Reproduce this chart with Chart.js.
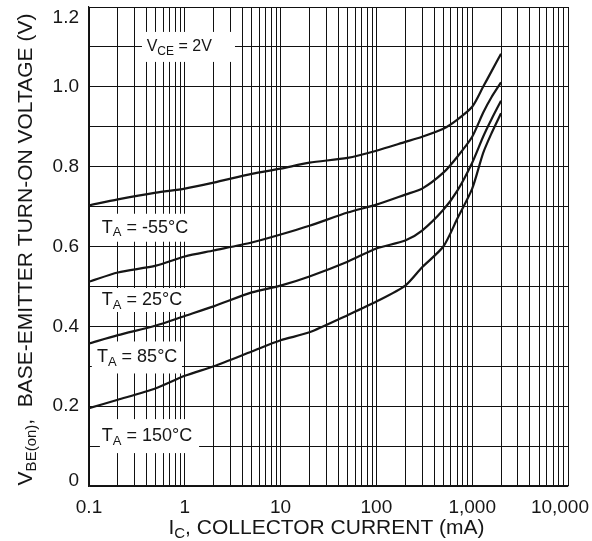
<!DOCTYPE html>
<html>
<head>
<meta charset="utf-8">
<script src="https://cdn.jsdelivr.net/npm/chart.js@4.4.0/dist/chart.umd.min.js"></script>
<style>
  html, body { margin: 0; padding: 0; background: #fff; }
  #wrap { width: 592px; height: 541px; }
</style>
</head>
<body>
<div id="wrap"><canvas id="chart"></canvas></div>
<script>
'use strict';

// collector current (mA), shared by all four curves
const currents = [0.1, 0.2, 0.5, 1, 2, 5, 10, 20, 50, 100, 200, 300, 500, 700, 1000, 1300, 1600, 2000];

// VBE(on) in volts, one array per ambient temperature
const vbeMinus55 = [0.703, 0.718, 0.735, 0.745, 0.760, 0.782, 0.795, 0.810, 0.822, 0.840, 0.862, 0.875, 0.895, 0.918, 0.950, 1.000, 1.040, 1.083];
const vbe25 = [0.512, 0.535, 0.552, 0.575, 0.590, 0.610, 0.630, 0.652, 0.685, 0.705, 0.730, 0.745, 0.785, 0.825, 0.875, 0.935, 0.975, 1.011];
const vbe85 = [0.357, 0.378, 0.402, 0.426, 0.450, 0.485, 0.502, 0.525, 0.562, 0.595, 0.615, 0.640, 0.692, 0.740, 0.810, 0.875, 0.920, 0.965];
const vbe150 = [0.195, 0.216, 0.245, 0.276, 0.300, 0.337, 0.365, 0.385, 0.428, 0.462, 0.502, 0.548, 0.600, 0.670, 0.745, 0.834, 0.885, 0.934];

const xTickValues = [0.1, 1, 10, 100, 1000, 10000];
const xTickLabels = ['0.1', '1', '10', '100', '1,000', '10,000'];
const yTickValues = [0, 0.2, 0.4, 0.6, 0.8, 1.0, 1.2];
const yTickLabels = ['0', '0.2', '0.4', '0.6', '0.8', '1.0', '1.2'];

const FONT = '"Liberation Sans", Arial, Helvetica, sans-serif';
const INK = '#161616';

// text boxes on the plot: [text, subscript?] parts, box span in mA, centre in V
const notes = [
  { parts: [['V', 0], ['CE', 1], [' = 2V', 0]], size: 16, from: 0.357, to: 3.34, textAt: 0.40, y: 1.1, half: 15 },
  { parts: [['T', 0], ['A', 1], [' = -55°C', 0]], size: 18, from: 0.116, to: 1.44, textAt: 0.136, y: 0.647, half: 14 },
  { parts: [['T', 0], ['A', 1], [' = 25°C', 0]], size: 18, from: 0.116, to: 1.13, textAt: 0.136, y: 0.466, half: 12 },
  { parts: [['T', 0], ['A', 1], [' = 85°C', 0]], size: 18, from: 0.107, to: 0.935, textAt: 0.121, y: 0.322, half: 16 },
  { parts: [['T', 0], ['A', 1], [' = 150°C', 0]], size: 18, from: 0.130, to: 1.41, textAt: 0.136, y: 0.125, half: 17 }
];

function partsWidth(ctx, parts, size) {
  let w = 0;
  parts.forEach(([t, sub]) => {
    ctx.font = (sub ? Math.round(size * 0.72) : size) + 'px ' + FONT;
    w += ctx.measureText(t).width;
  });
  return w;
}

function drawParts(ctx, parts, size, x, y) {
  ctx.textBaseline = 'middle';
  ctx.textAlign = 'left';
  parts.forEach(([t, sub]) => {
    const s = sub ? Math.round(size * 0.72) : size;
    ctx.font = s + 'px ' + FONT;
    ctx.fillText(t, x, sub ? y + size * 0.28 : y);
    x += ctx.measureText(t).width;
  });
}

const textLayer = {
  id: 'textLayer',
  beforeDatasetsDraw(chart) {
    const ctx = chart.ctx;
    const xs = chart.scales.x, ys = chart.scales.y;
    ctx.save();
    notes.forEach(n => {
      const x0 = xs.getPixelForValue(n.from);
      const x1 = xs.getPixelForValue(n.to);
      const cy = ys.getPixelForValue(n.y);
      ctx.fillStyle = '#fff';
      ctx.fillRect(x0, cy - n.half, x1 - x0, n.half * 2);
      ctx.fillStyle = INK;
      drawParts(ctx, n.parts, n.size, xs.getPixelForValue(n.textAt), cy);
    });
    ctx.restore();
  },
  afterDraw(chart) {
    const ctx = chart.ctx;
    const xs = chart.scales.x, ys = chart.scales.y;
    const area = chart.chartArea;
    ctx.save();
    ctx.fillStyle = INK;

    // x tick labels, kept inside the canvas
    ctx.font = '19px ' + FONT;
    ctx.textBaseline = 'middle';
    ctx.textAlign = 'left';
    xTickValues.forEach((v, i) => {
      const w = ctx.measureText(xTickLabels[i]).width;
      let left = xs.getPixelForValue(v) - w / 2;
      left = Math.min(left, chart.width - 3 - w);
      ctx.fillText(xTickLabels[i], left, area.bottom + 22);
    });

    // y tick labels, the end ones pulled inside the plot height
    ctx.textAlign = 'right';
    yTickValues.forEach((v, i) => {
      let cy = ys.getPixelForValue(v);
      cy = Math.max(area.top + 11, Math.min(area.bottom - 5, cy));
      ctx.fillText(yTickLabels[i], area.left - 10, cy);
    });

    // x title
    const xParts = [['I', 0], ['C', 1], [', COLLECTOR CURRENT (mA)', 0]];
    const xw = partsWidth(ctx, xParts, 21);
    drawParts(ctx, xParts, 21, (area.left + area.right) / 2 - xw / 2 - 2, area.bottom + 42);

    // y title
    const yParts = [['V', 0], ['BE(on)', 1], [',  BASE-EMITTER TURN-ON VOLTAGE (V)', 0]];
    const yw = partsWidth(ctx, yParts, 21);
    ctx.translate(26, (area.top + area.bottom) / 2 + 3);
    ctx.rotate(-Math.PI / 2);
    drawParts(ctx, yParts, 21, -yw / 2, 0);
    ctx.restore();
  }
};

function makeSet(label, values) {
  return {
    label: label,
    data: currents.map((c, i) => ({ x: c, y: values[i] })),
    borderColor: INK,
    borderWidth: 2.2,
    pointRadius: 0,
    tension: 0.25,
    fill: false
  };
}

const config = {
  type: 'line',
  data: {
    datasets: [
      makeSet('-55°C', vbeMinus55),
      makeSet('25°C', vbe25),
      makeSet('85°C', vbe85),
      makeSet('150°C', vbe150)
    ]
  },
  options: {
    responsive: false,
    animation: false,
    layout: { padding: { left: 0, right: 24, top: 7, bottom: 0 } },
    plugins: { legend: { display: false }, tooltip: { enabled: false } },
    scales: {
      x: {
        type: 'logarithmic',
        min: 0.1,
        max: 10000,
        afterBuildTicks(scale) {
          const ticks = [];
          for (let d = 0.1; d < 10000; d *= 10) {
            for (let m = 1; m < 10; m++) ticks.push({ value: +(d * m).toPrecision(3) });
          }
          ticks.push({ value: 10000 });
          scale.ticks = ticks;
        },
        afterFit(scale) {
          scale.height = 55;
          scale.paddingLeft = 0;
          scale.paddingRight = 0;
        },
        ticks: { display: false },
        grid: { color: '#111', lineWidth: 1, drawTicks: false },
        border: { color: INK, width: 1.2 }
      },
      y: {
        min: 0,
        max: 1.2,
        ticks: { stepSize: 0.1, display: false },
        afterFit(scale) {
          scale.width = 89;
          scale.paddingTop = 0;
          scale.paddingBottom = 0;
        },
        grid: { color: '#111', lineWidth: 1, drawTicks: false },
        border: { color: INK, width: 1.2 }
      }
    }
  },
  plugins: [textLayer]
};

const canvasElem = document.getElementById('chart');
canvasElem.width = 592;
canvasElem.height = 541;
new Chart(canvasElem, config);
</script>
</body>
</html>
